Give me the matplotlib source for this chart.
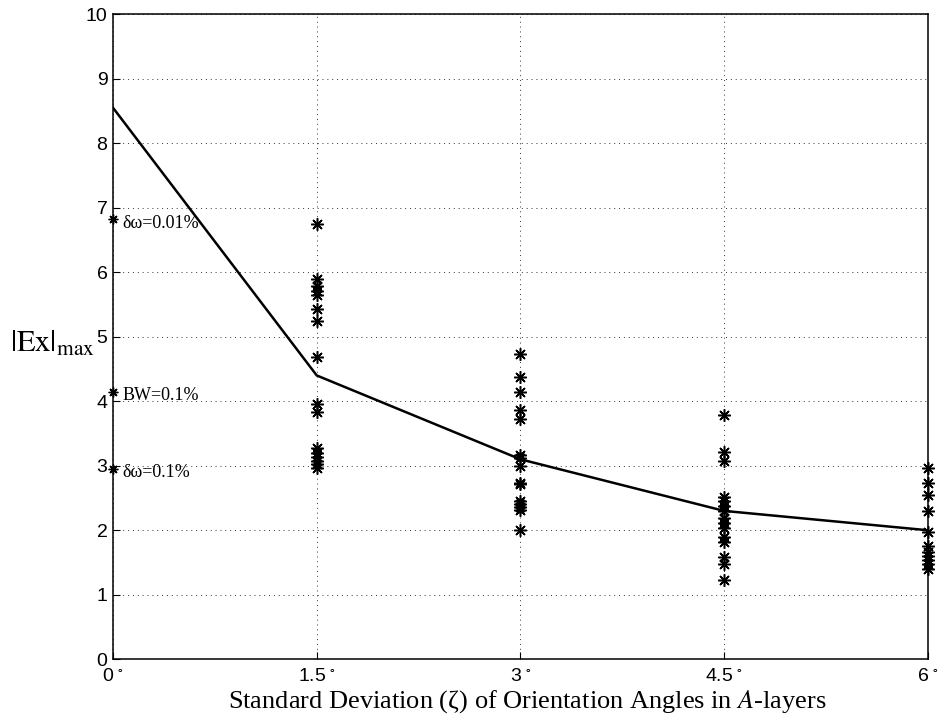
import matplotlib
matplotlib.use("Agg")
import matplotlib.pyplot as plt

plt.rcParams['mathtext.fontset'] = 'stix'

# mean curve
line_x = [0, 1.5, 3, 4.5, 6]
line_y = [8.55, 4.40, 3.10, 2.30, 2.00]

# scatter samples
sd15 = [6.75, 5.90, 5.78, 5.71, 5.64, 5.43, 5.25, 4.69, 3.96, 3.83, 3.27, 3.20, 3.13, 3.08, 3.02, 2.96]
sd30 = [4.74, 4.38, 4.14, 3.86, 3.73, 3.17, 3.12, 3.00, 2.73, 2.72, 2.45, 2.41, 2.36, 2.31, 2.00]
sd45 = [3.78, 3.22, 3.07, 2.52, 2.45, 2.37, 2.30, 2.19, 2.12, 2.04, 1.90, 1.81, 1.59, 1.47, 1.23]
sd60 = [2.96, 2.73, 2.54, 2.30, 1.98, 1.75, 1.67, 1.60, 1.54, 1.47, 1.40]

# reference values at 0 deg
ref_y = [6.82, 4.15, 2.95]
ref_labels = ['δω=0.01%', 'BW=0.1%', 'δω=0.1%']

xticks = [0, 1.5, 3, 4.5, 6]
xtick_labels = ['0', '1.5', '3', '4.5', '6']

fig = plt.figure(figsize=(9.42, 7.15), dpi=100)
ax = fig.add_axes([0.12, 0.078, 0.865, 0.902])

ax.plot(line_x, line_y, color='black', lw=1.8, zorder=3)

ast = (8, 2, 0)
for xv, ys in [(1.5, sd15), (3, sd30), (4.5, sd45), (6, sd60)]:
    ax.plot([xv] * len(ys), ys, linestyle='none', marker=ast, ms=9, mew=1.1,
            color='black', zorder=4, clip_on=False)

ax.plot([0] * len(ref_y), ref_y, linestyle='none', marker=ast, ms=7, mew=1.0,
        color='black', zorder=4, clip_on=False)
for yv, lab in zip(ref_y, ref_labels):
    ax.text(0.07, yv - 0.06, lab, fontsize=13, family='Liberation Serif',
            va='center', ha='left', zorder=5)

ax.set_xlim(0, 6)
ax.set_ylim(0, 10)
ax.set_xticks(xticks)
ax.set_xticklabels([r'$\mathregular{' + t + r'^{\;\circ}}$' for t in xtick_labels])
ax.set_yticks(range(0, 11))
for lab in ax.get_xticklabels() + ax.get_yticklabels():
    lab.set_family('Liberation Sans')
    lab.set_fontsize(14)
ax.tick_params(direction='in', length=5, width=0.8, pad=4)
ax.tick_params(axis='x', pad=6.5)
ax.grid(True, linestyle=(0, (1, 4)), color='black', lw=0.7, alpha=0.8)
for sp in ax.spines.values():
    sp.set_linewidth(1.1)

fig.text(0.56, 0.0, 'Standard Deviation (ζ) of Orientation Angles in $\\mathit{A}$-layers',
         fontsize=19, family='Liberation Serif', ha='center', va='bottom')
fig.text(0.011, 0.52, r'$|\mathrm{Ex}|_{\mathrm{max}}$', fontsize=22,
         ha='left', va='center')

fig.savefig('out.png', dpi=100)
